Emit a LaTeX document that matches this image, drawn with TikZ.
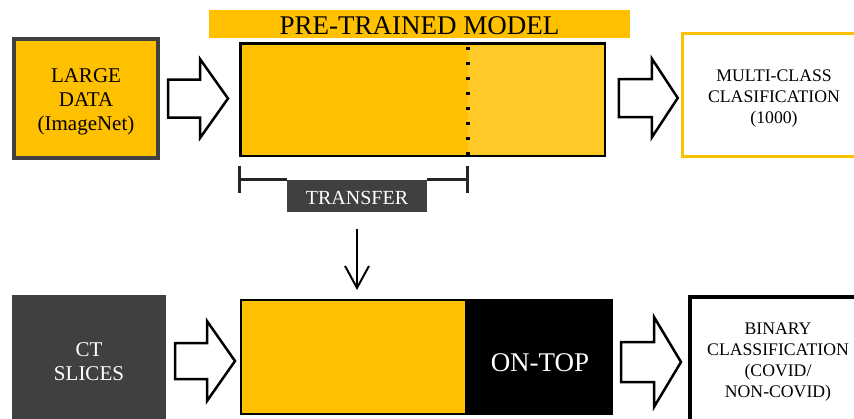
\documentclass[tikz,border=0pt]{standalone}
\usepackage{fontspec}
\setmainfont{Liberation Serif}
\usetikzlibrary{arrows.meta,backgrounds,calc}
\definecolor{amber}{HTML}{FFC000}
\definecolor{amberlight}{HTML}{FFCA28}
\definecolor{charcoal}{HTML}{404040}
\tikzset{
  box/.style={rectangle, outer sep=0pt, inner sep=0pt, align=center},
  label/.style={inner sep=0pt, outer sep=0pt, align=center},
  bigtext/.style={font=\fontsize{21}{24}\selectfont},
  smalltext/.style={font=\fontsize{17.7}{21}\selectfont},
  blockline/.style={draw=black, fill=white, line width=2.5pt, line join=miter},
  bracketline/.style={draw=black!85, line width=2.5pt},
  pics/blockarrow/.style n args={4}{code={
    \path[blockline] (0,-#1) -- (#3,-#1) -- (#3,-#2) -- (#4,0) -- (#3,#2)
      -- (#3,#1) -- (0,#1) -- cycle;
  }},
}
\begin{document}
\begin{tikzpicture}[x=1pt,y=-1pt]
\useasboundingbox (0,0) rectangle (854,418);
\clip (0,0) rectangle (854,418);

% ---------- upper row: pre-training ----------
\node[box, draw=charcoal, line width=4pt, fill=amber,
      minimum width=144pt, minimum height=119pt] (large) at (86,98.5) {};
\node[label, bigtext] (largetext) at ($(large.center)+(0,3)$)
      {LARGE\\DATA\\(ImageNet)};

\node[box, fill=amber, minimum width=421pt, minimum height=28pt] (banner)
      at (419.5,24) {};
\node[label, font=\fontsize{27}{30}\selectfont] (bannertext)
      at ($(banner.center)+(0,1.5)$) {PRE-TRAINED MODEL};

\node[box, draw=black, line width=2.5pt, minimum width=364.5pt,
      minimum height=112.5pt] (model) at (422.5,99.5) {};
\coordinate (split) at (468,43);
\begin{scope}[on background layer]
  \fill[amber] (model.north west) rectangle (model.south -| split);
  \fill[amberlight] (split) rectangle (model.south east);
\end{scope}
\draw[line width=3.5pt, dash pattern=on 3.5pt off 11.5pt]
  ($(split)+(0,3.5)$) -- (split |- model.south);

\node[box, draw=amber, line width=3pt, fill=white,
      minimum width=183pt, minimum height=123pt] (multi) at (774,95) {};
\node[label, smalltext] (multitext) at ($(multi.center)+(0,3.5)$)
      {MULTI-CLASS\\CLASIFICATION\\(1000)};

\pic at ($(large.east)+(10,0)$) {blockarrow={19}{39.5}{32}{60}};
\pic at ($(model.east)+(14,-1.5)$) {blockarrow={19}{39.5}{33}{59}};

% ---------- transfer bracket ----------
\node[box, fill=charcoal, minimum width=140pt, minimum height=32pt]
      (transfer) at (357,196) {};
\node[label, text=white, font=\fontsize{20}{24}\selectfont] (transfertext)
      at ($(transfer.center)+(0,1.5)$) {TRANSFER};
\coordinate (bl) at (239.5,179.5);
\coordinate (br) at (467.5,179.5);
\draw[bracketline] ($(bl)+(0,-13.5)$) -- ($(bl)+(0,13.5)$);
\draw[bracketline] ($(br)+(0,-13.5)$) -- ($(br)+(0,13.5)$);
\draw[bracketline] (bl) -- (bl -| transfer.west);
\draw[bracketline] (br) -- (br -| transfer.east);

% ---------- lower row: fine-tuning ----------
\node[box, fill=charcoal, minimum width=154pt, minimum height=132pt]
      (ct) at (89,361) {};
\node[label, text=white, bigtext] (cttext) at ($(ct.center)+(0,1)$)
      {CT\\SLICES};

\node[box, draw=black, line width=2pt, minimum width=371pt,
      minimum height=114pt] (tuned) at (426.5,357) {};
\coordinate (cut) at (465,300);
\begin{scope}[on background layer]
  \fill[amber] (tuned.north west) rectangle (tuned.south -| cut);
  \fill[black] (cut) rectangle (tuned.south east);
\end{scope}
\node[label, text=white, font=\fontsize{27}{30}\selectfont]
  (ontop) at (540,363) {ON-TOP};

\node[box, draw=black, line width=3.5pt, fill=white,
      minimum width=176.5pt, minimum height=130.5pt] (binary) at (778,362) {};
\node[label, smalltext] (binarytext) at ($(binary.center)+(0,0.5)$)
      {BINARY\\CLASSIFICATION\\(COVID/\\NON-COVID)};

\pic at ($(ct.east)+(9,0)$) {blockarrow={18}{40}{32}{60}};
\pic at ($(tuned.east)+(9,5)$) {blockarrow={20}{45}{33}{60}};

\draw[line width=2pt, -{Straight Barb[length=22pt,width=24pt,line width=2pt]},
      shorten <=17pt, shorten >=10pt]
  (transfer.south) -- (transfer.south |- tuned.north);
\end{tikzpicture}
\end{document}
